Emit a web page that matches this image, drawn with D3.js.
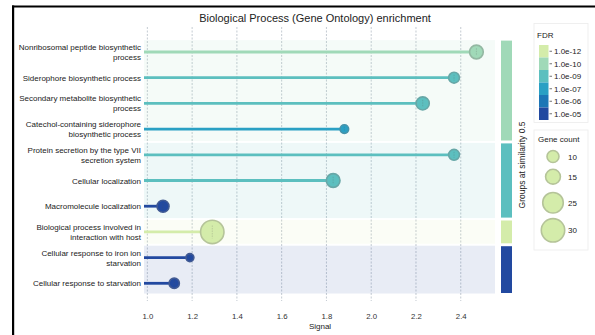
<!DOCTYPE html>
<html>
<head>
<meta charset="utf-8">
<script src="https://cdn.jsdelivr.net/npm/d3@7"></script>
<style>
  html, body { margin: 0; padding: 0; background: #fff; }
  svg { display: block; font-family: "Liberation Sans", Arial, sans-serif; }
</style>
</head>
<body>
<svg id="chart" width="595" height="335"></svg>
<script>
// GO Biological Process terms, top to bottom
const terms = [
  "Nonribosomal peptide biosynthetic\nprocess",
  "Siderophore biosynthetic process",
  "Secondary metabolite biosynthetic\nprocess",
  "Catechol-containing siderophore\nbiosynthetic process",
  "Protein secretion by the type VII\nsecretion system",
  "Cellular localization",
  "Macromolecule localization",
  "Biological process involved in\ninteraction with host",
  "Cellular response to iron ion\nstarvation",
  "Cellular response to starvation"
];
const signal    = [2.47, 2.37, 2.23, 1.88, 2.37, 1.83, 1.07, 1.29, 1.19, 1.12];
const geneCount = [13, 8, 12, 4, 8, 13, 10, 30, 3, 7];
const fdrClass  = ["1.0e-10", "1.0e-09", "1.0e-09", "1.0e-07", "1.0e-09", "1.0e-09", "1.0e-05", "1.0e-12", "1.0e-05", "1.0e-05"];
const simGroup  = [1, 1, 1, 1, 2, 2, 2, 3, 4, 4];

const groupIds    = [1, 2, 3, 4];
const groupColors = ["#a0d9b8", "#5cbfbf", "#d4ecaa", "#2249a0"];

const fdrLabels = ["1.0e-12", "1.0e-10", "1.0e-09", "1.0e-07", "1.0e-06", "1.0e-05"];
const fdrColors = ["#d4ecaa", "#a0d9b8", "#5cbfbf", "#2aa0c4", "#1d76b6", "#2249a0"];

const sizeLegend = [10, 15, 25, 30];
const xTicks = [1.0, 1.2, 1.4, 1.6, 1.8, 2.0, 2.2, 2.4];

const svg = d3.select("#chart");

// frame edges
svg.append("rect").attr("x", 12).attr("y", 5.5).attr("width", 583).attr("height", 2).attr("fill", "#000");
svg.append("rect").attr("x", 12).attr("y", 5.5).attr("width", 2.2).attr("height", 330).attr("fill", "#000");

const x = d3.scaleLinear().domain([0.985, 2.553]).range([144, 495]);
const y = d3.scalePoint().domain(d3.range(terms.length)).range([52, 283.3]);
const half = 12.4;
const plotBottom = 294;

const fdrColor = d3.scaleOrdinal().domain(fdrLabels).range(fdrColors);
const groupColor = d3.scaleOrdinal().domain(groupIds).range(groupColors);
const r = d3.scaleLinear().domain([10, 30]).range([6, 11.7]);

// title
svg.append("text").attr("x", 315).attr("y", 22).attr("text-anchor", "middle")
  .attr("font-size", 11).attr("fill", "#222")
  .text("Biological Process (Gene Ontology) enrichment");

// vertical dashed grid
svg.append("g").selectAll("line").data(xTicks).join("line")
  .attr("x1", d => x(d)).attr("x2", d => x(d))
  .attr("y1", 27).attr("y2", 301)
  .attr("stroke", "#aab4be").attr("stroke-width", 0.7)
  .attr("stroke-dasharray", "2,1.5");

// group extents
const groupExtents = groupIds.map(g => {
  const idx = d3.range(terms.length).filter(i => simGroup[i] === g);
  const top = y(idx[0]) - half;
  const bottom = Math.min(y(idx[idx.length - 1]) + half, plotBottom);
  return { g, top, bottom };
});

// shaded group bands over the plot
svg.append("g").selectAll("rect").data(groupExtents).join("rect")
  .attr("x", x.range()[0]).attr("width", x.range()[1] - x.range()[0])
  .attr("y", d => d.top + 0.5).attr("height", d => d.bottom - d.top - 1)
  .attr("fill", d => groupColor(d.g)).attr("fill-opacity", 0.1);

// group bar on the right
svg.append("g").selectAll("rect").data(groupExtents).join("rect")
  .attr("x", 501).attr("width", 11)
  .attr("y", d => d.top + 1).attr("height", d => d.bottom - d.top - 2)
  .attr("fill", d => groupColor(d.g));

svg.append("text")
  .attr("transform", "translate(525,165) rotate(-90)")
  .attr("text-anchor", "middle").attr("font-size", 8.5).attr("fill", "#222")
  .text("Groups at similarity 0.5");

// lollipops
const idx = d3.range(terms.length);
svg.append("g").selectAll("line").data(idx).join("line")
  .attr("x1", x.range()[0]).attr("x2", i => x(signal[i]))
  .attr("y1", i => y(i)).attr("y2", i => y(i))
  .attr("stroke", i => fdrColor(fdrClass[i])).attr("stroke-width", 2.8);

const dots = svg.append("g").selectAll("g").data(idx).join("g")
  .attr("transform", i => `translate(${x(signal[i])},${y(i)})`);
dots.append("circle")
  .attr("r", i => r(geneCount[i]))
  .attr("fill", i => fdrColor(fdrClass[i]))
  .attr("stroke", i => d3.interpolateRgb(fdrColor(fdrClass[i]), "#7a7a7a")(0.35))
  .attr("stroke-width", 1.6);
dots.append("line")
  .attr("y1", i => -r(geneCount[i]) * 0.55).attr("y2", i => r(geneCount[i]) * 0.55)
  .attr("stroke", "#555").attr("stroke-opacity", 0.35).attr("stroke-width", 0.6)
  .attr("stroke-dasharray", "1.5,1");

// term labels
const labels = svg.append("g").selectAll("text").data(idx).join("text")
  .attr("x", 141).attr("text-anchor", "end").attr("font-size", 8).attr("fill", "#222");
labels.each(function(i) {
  const lines = terms[i].split("\n");
  const t = d3.select(this);
  lines.forEach((ln, k) => {
    t.append("tspan").attr("x", 141)
      .attr("y", y(i) + 3 + (k - (lines.length - 1) / 2) * 10)
      .text(ln);
  });
});

// x axis
const xAxis = svg.append("g").attr("transform", `translate(0,${plotBottom})`)
  .call(d3.axisBottom(x).tickValues(xTicks).tickFormat(d3.format(".1f")).tickSize(0).tickPadding(19));
xAxis.select(".domain").remove();
xAxis.selectAll("text").attr("font-size", 7.8).attr("fill", "#333")
  .attr("font-family", "Liberation Sans, Arial, sans-serif");
svg.append("text").attr("x", 320).attr("y", 329).attr("text-anchor", "middle")
  .attr("font-size", 8).attr("fill", "#222").text("Signal");

// FDR legend
const leg = svg.append("g");
leg.append("rect").attr("x", 534).attr("y", 23.5).attr("width", 54).attr("height", 99)
  .attr("fill", "#fff").attr("stroke", "#ececec").attr("stroke-width", 0.8);
leg.append("text").attr("x", 537).attr("y", 38).attr("font-size", 8).attr("fill", "#222").text("FDR");
const sw = 12.5;
leg.selectAll("rect.sw").data(fdrLabels).join("rect").attr("class", "sw")
  .attr("x", 539).attr("width", 9.5)
  .attr("y", (d, k) => 45 + k * sw).attr("height", sw)
  .attr("fill", d => fdrColor(d));
leg.selectAll("line.tk").data(fdrLabels).join("line").attr("class", "tk")
  .attr("x1", 549.5).attr("x2", 552)
  .attr("y1", (d, k) => 45 + k * sw + sw / 2).attr("y2", (d, k) => 45 + k * sw + sw / 2)
  .attr("stroke", "#333").attr("stroke-width", 0.7);
leg.selectAll("text.lb").data(fdrLabels).join("text").attr("class", "lb")
  .attr("x", 554).attr("y", (d, k) => 45 + k * sw + sw / 2 + 3)
  .attr("font-size", 8).attr("fill", "#222").text(d => d);

// gene count legend
const sl = svg.append("g");
sl.append("rect").attr("x", 534).attr("y", 130).attr("width", 54).attr("height", 120)
  .attr("fill", "#fff").attr("stroke", "#ececec").attr("stroke-width", 0.8);
sl.append("text").attr("x", 538).attr("y", 142).attr("font-size", 8).attr("fill", "#222").text("Gene count");
const sizeY = [156.5, 176.7, 202.7, 230.3];
sl.selectAll("circle").data(sizeLegend).join("circle")
  .attr("cx", 553).attr("cy", (d, k) => sizeY[k]).attr("r", d => r(d))
  .attr("fill", "#d4ecaa")
  .attr("stroke", d3.interpolateRgb("#d4ecaa", "#7a7a7a")(0.35)).attr("stroke-width", 1.6);
sl.selectAll("text.v").data(sizeLegend).join("text").attr("class", "v")
  .attr("x", 568).attr("y", (d, k) => sizeY[k] + 3)
  .attr("font-size", 8).attr("fill", "#222").text(d => d);
</script>
</body>
</html>
